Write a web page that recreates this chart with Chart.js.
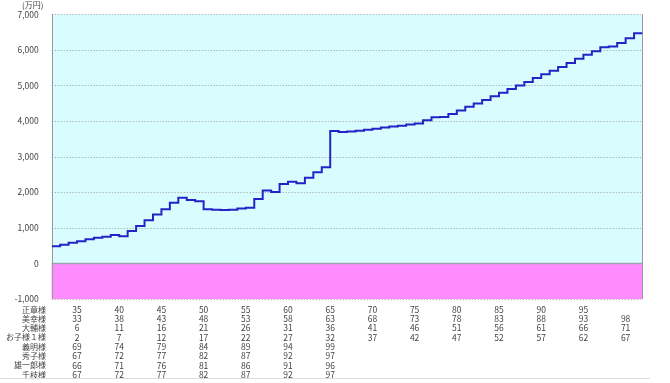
<!DOCTYPE html>
<html>
<head>
<meta charset="utf-8">
<script src="https://cdn.jsdelivr.net/npm/chart.js@4"></script>
<style>
html,body{margin:0;padding:0;background:#fff;}
#wrap{width:670px;height:383px;position:relative;}
</style>
</head>
<body>
<div id="wrap"><canvas id="c" width="670" height="383"></canvas></div>
<script>
// Ages of 正章様 for each yearly step
const ages = [32,33,34,35,36,37,38,39,40,41,42,43,44,45,46,47,48,49,50,51,
  52,53,54,55,56,57,58,59,60,61,62,63,64,65,66,67,68,69,70,71,
  72,73,74,75,76,77,78,79,80,81,82,83,84,85,86,87,88,89,90,91,
  92,93,94,95,96,97,98,99,100,101];
// Balance (万円)
const balance = [480,525,580,625,680,720,750,800,765,910,
  1050,1215,1375,1525,1705,1845,1780,1750,1525,1510,
  1500,1505,1540,1565,1810,2050,2005,2230,2295,2255,
  2405,2560,2700,3720,3690,3710,3730,3755,3785,3820,
  3850,3870,3900,3935,4020,4110,4115,4200,4300,4400,
  4490,4590,4695,4795,4900,5000,5100,5210,5315,5415,
  5520,5630,5750,5865,5965,6075,6095,6195,6330,6465];
// Table columns (position on the age axis)
const tickAges = [35,40,45,50,55,60,65,70,75,80,85,90,95,100];
const rowNames = ['正章様','美幸様','大輔様','お子様１様','義明様','秀子様','雄一郎様','千枝様'];
const rowMasaaki = ['35','40','45','50','55','60','65','70','75','80','85','90','95',''];
const rowMiyuki  = ['33','38','43','48','53','58','63','68','73','78','83','88','93','98'];
const rowDaisuke = ['6','11','16','21','26','31','36','41','46','51','56','61','66','71'];
const rowChild1  = ['2','7','12','17','22','27','32','37','42','47','52','57','62','67'];
const rowYoshiaki= ['69','74','79','84','89','94','99','','','','','','',''];
const rowHideko  = ['67','72','77','82','87','92','97','','','','','','',''];
const rowYuichiro= ['66','71','76','81','86','91','96','','','','','','',''];
const rowChie    = ['67','72','77','82','87','92','97','','','','','','',''];
const yTicks = [-1000,0,1000,2000,3000,4000,5000,6000,7000];
const unitLabel = '(万円)';

const tableRows = [rowMasaaki,rowMiyuki,rowDaisuke,rowChild1,rowYoshiaki,rowHideko,rowYuichiro,rowChie];

const points = ages.map((a,i)=>({x:a,y:balance[i]}));
points.push({x:ages[ages.length-1]+1,y:balance[balance.length-1]});

const FONT = "'Noto Sans CJK JP', 'DejaVu Sans', sans-serif";

const bgPlugin = {
  id:'bg',
  beforeDatasetsDraw(chart){
    const {ctx, chartArea:a, scales:{x,y}} = chart;
    const y0 = y.getPixelForValue(0);
    ctx.save();
    ctx.fillStyle = '#d9fdfe';
    ctx.fillRect(a.left, a.top, a.right-a.left, y0-a.top);
    ctx.fillStyle = '#ff8cff';
    ctx.fillRect(a.left, y0, a.right-a.left, a.bottom-y0);
    // dotted grid
    ctx.strokeStyle = '#9a9a9a';
    ctx.lineWidth = 1;
    ctx.setLineDash([1,2]);
    yTicks.forEach(v=>{
      if(v===0) return;
      const py = Math.round(y.getPixelForValue(v))+0.5;
      ctx.beginPath(); ctx.moveTo(a.left,py); ctx.lineTo(a.right,py); ctx.stroke();
    });
    ctx.setLineDash([]);
    // zero line
    ctx.strokeStyle = '#9aa4b4';
    ctx.lineWidth = 1.5;
    ctx.beginPath(); ctx.moveTo(a.left,y0); ctx.lineTo(a.right,y0); ctx.stroke();
    // frame
    ctx.strokeStyle = '#999';
    ctx.lineWidth = 1;
    ctx.beginPath();
    ctx.moveTo(Math.round(a.left)+0.5, a.top); ctx.lineTo(Math.round(a.left)+0.5, a.bottom);
    ctx.moveTo(Math.round(a.right)-0.5, a.top); ctx.lineTo(Math.round(a.right)-0.5, a.bottom);
    ctx.stroke();
    ctx.restore();
  },
  afterDraw(chart){
    const {ctx, chartArea:a, scales:{x}} = chart;
    ctx.save();
    ctx.fillStyle = '#444';
    ctx.textBaseline = 'middle';
    // unit label
    ctx.textAlign = 'left';
    ctx.font = "8px " + FONT;
    ctx.fillText(unitLabel, 22, 5);
    const top = 309.5, lh = 9.3;
    rowNames.forEach((n,r)=>{
      const py = top + r*lh;
      ctx.font = "8px " + FONT;
      ctx.textAlign = 'right';
      ctx.fillText(n, 46, py);
      ctx.font = "8.5px " + FONT;
      ctx.textAlign = 'center';
      tableRows[r].forEach((t,i)=>{
        if(t) ctx.fillText(t, x.getPixelForValue(tickAges[i]), py);
      });
    });
    ctx.strokeStyle = '#ddd';
    ctx.lineWidth = 1;
    ctx.beginPath(); ctx.moveTo(0,378.5); ctx.lineTo(650,378.5); ctx.stroke();
    ctx.restore();
  }
};

new Chart(document.getElementById('c'), {
  type:'line',
  data:{datasets:[{
    data:points,
    stepped:true,
    borderColor:'#2323c8',
    borderWidth:2,
    pointRadius:0,
    fill:false
  }]},
  options:{
    responsive:false,
    animation:false,
    events:[],
    layout:{padding:{top:14.3,bottom:84,right:27.5,left:0}},
    plugins:{legend:{display:false},tooltip:{enabled:false}},
    scales:{
      x:{type:'linear',min:32,max:102,display:false},
      y:{
        min:-1000,max:7000,
        afterBuildTicks(s){ s.ticks = yTicks.map(v=>({value:v})); },
        afterFit(s){ s.width = 51.7; },
        grid:{display:false},
        border:{display:false},
        ticks:{
          padding:5,
          color:'#444',
          font:{family:FONT,size:8.5},
          callback:v=>v.toLocaleString('en-US')
        }
      }
    }
  },
  plugins:[bgPlugin]
});
</script>
</body>
</html>
